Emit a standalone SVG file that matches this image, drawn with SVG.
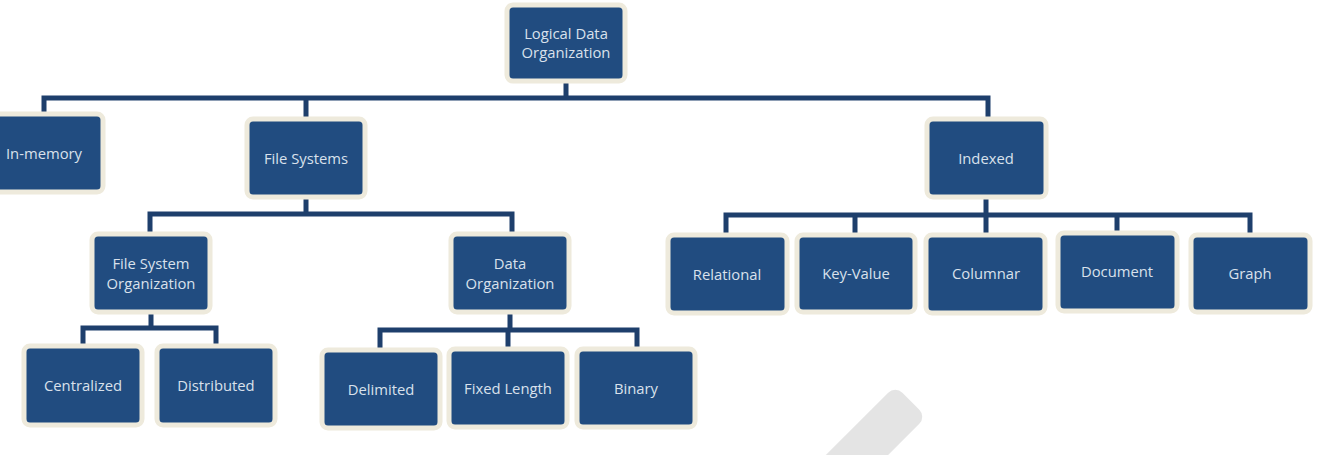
<svg xmlns="http://www.w3.org/2000/svg" width="1320" height="455" viewBox="0 0 1320 455">
<style>
.box{fill:#214c80;stroke:#eeeadc;stroke-width:5}
.t{font-family:"Open Sans","Liberation Sans",sans-serif;font-size:14.8px;fill:#d9e1ec;text-anchor:middle;dominant-baseline:central}
.c{fill:none;stroke:#1e3f6c;stroke-width:5;stroke-linejoin:miter;stroke-linecap:butt}
</style>
<rect width="1320" height="455" fill="#ffffff"/>
<rect transform="translate(908,404) rotate(135)" x="-4" y="-22" width="150" height="44" rx="10" fill="#e4e4e4"/>
<g id="connectors">
<path class="c" d="M566,80 V98 M44,113 V98 H988 V119 M306,98 V119"/>
<path class="c" d="M306,197 V214 M150,234 V214 H512 V234"/>
<path class="c" d="M986,197 V215 M726,235 V215 H1250 V235 M855,215 V235 M986,215 V235 M1117,215 V233"/>
<path class="c" d="M151,312 V328 M83,346 V328 H216 V346"/>
<path class="c" d="M510,312 V330 M380,350 V330 H637 V349 M508,330 V349"/>
</g>
<g id="n-root"><rect class="box" x="507" y="5" width="118" height="76" rx="6"/><text class="t" x="566" y="33">Logical Data</text><text class="t" x="566" y="52">Organization</text></g>
<g id="n-inmemory"><rect class="box" x="-15" y="114" width="118" height="78" rx="6"/><text class="t" x="44" y="153">In-memory</text></g>
<g id="n-filesystems"><rect class="box" x="247" y="119" width="118" height="78" rx="6"/><text class="t" x="306" y="158">File Systems</text></g>
<g id="n-indexed"><rect class="box" x="927" y="119" width="119" height="78" rx="6"/><text class="t" x="986" y="158">Indexed</text></g>
<g id="n-fso"><rect class="box" x="92" y="234" width="118" height="78" rx="6"/><text class="t" x="151" y="263">File System</text><text class="t" x="151" y="283">Organization</text></g>
<g id="n-dataorg"><rect class="box" x="451" y="234" width="118" height="78" rx="6"/><text class="t" x="510" y="263">Data</text><text class="t" x="510" y="283">Organization</text></g>
<g id="n-relational"><rect class="box" x="668" y="235" width="119" height="78" rx="6"/><text class="t" x="727" y="274">Relational</text></g>
<g id="n-keyvalue"><rect class="box" x="797" y="235" width="118" height="77" rx="6"/><text class="t" x="856" y="273">Key-Value</text></g>
<g id="n-columnar"><rect class="box" x="926" y="235" width="119" height="78" rx="6"/><text class="t" x="986" y="273">Columnar</text></g>
<g id="n-document"><rect class="box" x="1058" y="233" width="119" height="78" rx="6"/><text class="t" x="1117" y="271">Document</text></g>
<g id="n-graph"><rect class="box" x="1191" y="235" width="119" height="77" rx="6"/><text class="t" x="1250" y="273">Graph</text></g>
<g id="n-centralized"><rect class="box" x="24" y="346" width="118" height="79" rx="6"/><text class="t" x="83" y="385">Centralized</text></g>
<g id="n-distributed"><rect class="box" x="157" y="346" width="118" height="79" rx="6"/><text class="t" x="216" y="385">Distributed</text></g>
<g id="n-delimited"><rect class="box" x="322" y="350" width="118" height="78" rx="6"/><text class="t" x="381" y="389">Delimited</text></g>
<g id="n-fixedlength"><rect class="box" x="449" y="349" width="118" height="78" rx="6"/><text class="t" x="508" y="388">Fixed Length</text></g>
<g id="n-binary"><rect class="box" x="577" y="349" width="118" height="78" rx="6"/><text class="t" x="636" y="388">Binary</text></g>
</svg>
